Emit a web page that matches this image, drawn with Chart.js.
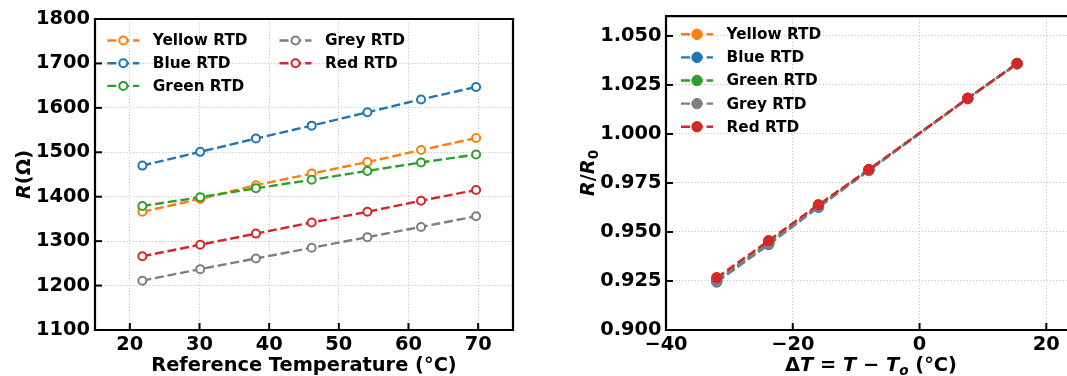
<!DOCTYPE html>
<html><head><meta charset="utf-8">
<script src="https://cdn.jsdelivr.net/npm/chart.js@4/dist/chart.umd.min.js"></script>
<style>
html,body{margin:0;padding:0;background:#fff;overflow:hidden;width:1067px;height:376px;}
#wrap{position:absolute;left:0;top:0;width:1067px;height:376px;overflow:hidden;background:#fff;}
#c1{position:absolute;left:0;top:0;}
#c2{position:absolute;left:540px;top:0;}
</style></head><body>
<div id="wrap">
<canvas id="c1" width="530" height="376"></canvas>
<canvas id="c2" width="580" height="376"></canvas>
</div>
<script>
// ---------- data ----------
const seriesNames = ['Yellow RTD', 'Blue RTD', 'Green RTD', 'Grey RTD', 'Red RTD'];
const seriesColors = ['#ff7f0e', '#1f77b4', '#2ca02c', '#7f7f7f', '#d62728'];

const refTemps = [21.8, 30.1, 38.1, 46.1, 54.1, 61.8, 69.7];
const yellowR = [1366, 1395, 1426, 1452, 1478, 1505, 1532];
const blueR   = [1470, 1501, 1531, 1560, 1590, 1619, 1647];
const greenR  = [1379, 1399, 1419, 1438, 1458, 1477, 1495];
const greyR   = [1211, 1237, 1261, 1285, 1309, 1332, 1356];
const redR    = [1266, 1292, 1317, 1342, 1366, 1391, 1415];

const deltaT = [-32.0, -23.8, -15.95, -8.0, 7.6, 15.4];
const yellowRatio = [0.9255, 0.9448, 0.9634, 0.9817, 1.0180, 1.0358];
const blueRatio   = [0.9245, 0.9436, 0.9626, 0.9813, 1.0182, 1.0358];
const greenRatio  = [0.9252, 0.9445, 0.9632, 0.9816, 1.0181, 1.0359];
const greyRatio   = [0.9248, 0.9440, 0.9629, 0.9815, 1.0181, 1.0359];
const redRatio    = [0.9267, 0.9456, 0.9639, 0.9819, 1.0182, 1.0360];

const leftXTicks = [20, 30, 40, 50, 60, 70];
const leftYTicks = [1100, 1200, 1300, 1400, 1500, 1600, 1700, 1800];
const rightXTicks = [-40, -20, 0, 20];
const rightYTicks = [0.900, 0.925, 0.950, 0.975, 1.000, 1.025, 1.050];

// ---------- helpers ----------
const FAM = '"DejaVu Sans", sans-serif';
const TICK_SIZE = 19.4, LEG_SIZE = 15.3;
const DASH = [9, 3.8];
function fontStr(r) { return (r.italic ? 'italic ' : '') + 'bold ' + (r.size || TICK_SIZE) + 'px ' + FAM; }
function drawRuns(ctx, runs, x, y) {
  let total = 0;
  runs.forEach(r => { ctx.font = fontStr(r); r.w = ctx.measureText(r.t).width; total += r.w; });
  let cx = x - total / 2;
  ctx.textAlign = 'left'; ctx.textBaseline = 'alphabetic'; ctx.fillStyle = '#000';
  runs.forEach(r => { ctx.font = fontStr(r); ctx.fillText(r.t, cx, y + (r.dy || 0)); cx += r.w; });
}

function decor(cfg) {
  return {
    id: 'decor',
    afterDraw(chart) {
      const ctx = chart.ctx, a = chart.chartArea;
      const xs = chart.scales.x, ys = chart.scales.y;
      ctx.save();
      // inward ticks
      ctx.strokeStyle = '#000'; ctx.lineWidth = 2; ctx.setLineDash([]);
      xs.ticks.forEach(t => {
        const px = xs.getPixelForValue(t.value);
        ctx.beginPath(); ctx.moveTo(px, a.bottom); ctx.lineTo(px, a.bottom - 7); ctx.stroke();
      });
      ys.ticks.forEach(t => {
        const py = ys.getPixelForValue(t.value);
        ctx.beginPath(); ctx.moveTo(a.left, py); ctx.lineTo(a.left + 7, py); ctx.stroke();
      });
      // frame (spines)
      ctx.lineWidth = 2.2;
      ctx.beginPath();
      ctx.moveTo(a.right + 1.1, a.top); ctx.lineTo(a.left, a.top); ctx.lineTo(a.left, a.bottom); ctx.lineTo(a.right + 1.1, a.bottom);
      ctx.stroke();
      if (cfg.rightSpine) {
        ctx.beginPath(); ctx.moveTo(a.right, a.top); ctx.lineTo(a.right, a.bottom); ctx.stroke();
      }
      // legend
      const L = cfg.legend;
      chart.data.datasets.forEach((ds, i) => {
        const p = L.pos[i];
        const mx = p[0], my = p[1];
        ctx.strokeStyle = ds.borderColor; ctx.lineWidth = ds.borderWidth; ctx.setLineDash(DASH);
        ctx.beginPath(); ctx.moveTo(mx - 16, my); ctx.lineTo(mx + 16, my); ctx.stroke();
        ctx.setLineDash([]);
        ctx.beginPath(); ctx.arc(mx, my, ds.pointRadius, 0, Math.PI * 2);
        ctx.fillStyle = ds.pointBackgroundColor; ctx.fill();
        ctx.lineWidth = ds.pointBorderWidth; ctx.strokeStyle = ds.pointBorderColor; ctx.stroke();
        ctx.fillStyle = '#000'; ctx.font = 'bold ' + LEG_SIZE + 'px ' + FAM;
        ctx.textAlign = 'left'; ctx.textBaseline = 'middle';
        ctx.fillText(ds.label, mx + 29.5, my + 1);
      });
      // titles
      drawRuns(ctx, cfg.xTitle, cfg.xTitleX, cfg.xTitleY);
      ctx.save();
      ctx.translate(cfg.yTitleX, (a.top + a.bottom) / 2);
      ctx.rotate(-Math.PI / 2);
      drawRuns(ctx, cfg.yTitle, 0, 0);
      ctx.restore();
      ctx.restore();
    }
  };
}

function axisBase() {
  return {
    type: 'linear',
    grid: { color: '#c0c0c0', lineWidth: 0.9, drawTicks: false },
    border: { display: false, dash: [1.2, 2] },
    ticks: { font: { family: FAM, size: TICK_SIZE, weight: 'bold' }, color: '#000', maxRotation: 0, autoSkip: false }
  };
}

// ---------- left chart ----------
const leftSeries = [yellowR, blueR, greenR, greyR, redR];
const lx = axisBase(), ly = axisBase();
Object.assign(lx, { min: 15, max: 75,
  afterBuildTicks: s => { s.ticks = leftXTicks.map(v => ({ value: v })); },
  afterFit: s => { s.height = 46; } });
lx.ticks.padding = 3;
Object.assign(ly, { min: 1100, max: 1800,
  afterBuildTicks: s => { s.ticks = leftYTicks.map(v => ({ value: v })); },
  afterFit: s => { s.width = 95; } });
ly.ticks.padding = 5;
ly.ticks.callback = v => String(v);

new Chart(document.getElementById('c1'), {
  type: 'line',
  data: { datasets: leftSeries.map((vals, i) => ({
    label: seriesNames[i],
    data: refTemps.map((t, j) => ({ x: t, y: vals[j] })),
    borderColor: seriesColors[i], backgroundColor: '#ffffff',
    borderWidth: 2.4, borderDash: DASH, tension: 0, fill: false,
    pointRadius: 4, pointBorderWidth: 2, pointBackgroundColor: '#ffffff', pointBorderColor: seriesColors[i],
    order: 4 - i
  })) },
  options: {
    responsive: false, animation: false, devicePixelRatio: 1,
    layout: { padding: { left: 0, top: 19, right: 17, bottom: 0 } },
    plugins: { legend: { display: false }, tooltip: { enabled: false } },
    scales: { x: lx, y: ly }
  },
  plugins: [decor({
    rightSpine: true,
    legend: { pos: [[123.3, 40.5], [123.3, 63.2], [123.3, 85.9], [295.5, 40.5], [295.5, 63.2]] },
    xTitle: [{ t: 'Reference Temperature (°C)' }], xTitleX: 304, xTitleY: 371,
    yTitle: [{ t: 'R', italic: true }, { t: '(Ω)' }], yTitleX: 29.8
  })]
});

// ---------- right chart ----------
const rightSeries = [yellowRatio, blueRatio, greenRatio, greyRatio, redRatio];
const rx = axisBase(), ry = axisBase();
Object.assign(rx, { min: -40, max: 25,
  afterBuildTicks: s => { s.ticks = rightXTicks.map(v => ({ value: v })); },
  afterFit: s => { s.height = 46; } });
rx.ticks.padding = 3;
rx.ticks.callback = v => (v < 0 ? '\u2212' + Math.abs(v) : String(v));
Object.assign(ry, { min: 0.9, max: 1.0601,
  afterBuildTicks: s => { s.ticks = rightYTicks.map(v => ({ value: v })); },
  afterFit: s => { s.width = 126; } });
ry.ticks.padding = 4.5;
ry.ticks.callback = v => Number(v).toFixed(3);

new Chart(document.getElementById('c2'), {
  type: 'line',
  data: { datasets: rightSeries.map((vals, i) => ({
    label: seriesNames[i],
    data: deltaT.map((t, j) => ({ x: t, y: vals[j] })),
    borderColor: seriesColors[i], backgroundColor: seriesColors[i],
    borderWidth: 2.4, borderDash: DASH, tension: 0, fill: false,
    pointRadius: 5.2, pointBorderWidth: 1, pointBackgroundColor: seriesColors[i], pointBorderColor: seriesColors[i],
    order: 4 - i
  })) },
  options: {
    responsive: false, animation: false, devicePixelRatio: 1,
    layout: { padding: { left: 0, top: 13, right: 42, bottom: 0 } },
    plugins: { legend: { display: false }, tooltip: { enabled: false } },
    scales: { x: rx, y: ry }
  },
  plugins: [decor({
    rightSpine: false,
    legend: { pos: [[157, 34.3], [157, 57.4], [157, 80.5], [157, 103.6], [157, 126.7]] },
    xTitle: [{ t: 'Δ' }, { t: 'T', italic: true }, { t: ' = ' }, { t: 'T', italic: true }, { t: ' − ' },
             { t: 'T', italic: true }, { t: 'o', italic: true, size: 13.6, dy: 3.5 }, { t: ' (°C)' }],
    xTitleX: 331, xTitleY: 371,
    yTitle: [{ t: 'R', italic: true }, { t: '/' }, { t: 'R', italic: true }, { t: '0', size: 13.6, dy: 4 }],
    yTitleX: 53.8
  })]
});
</script>
</body></html>
